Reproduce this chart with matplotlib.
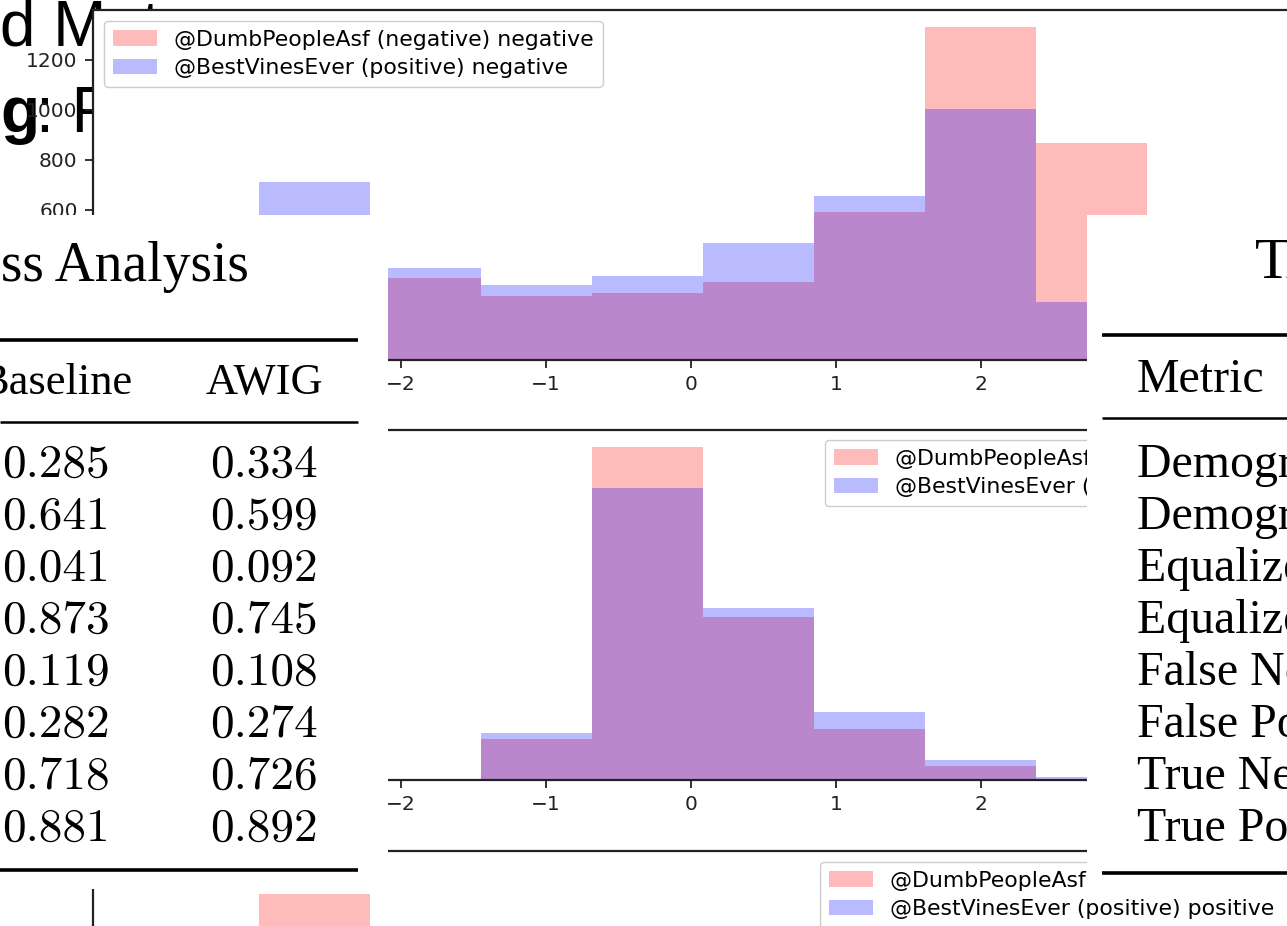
import matplotlib
matplotlib.use("Agg")
import matplotlib.pyplot as plt

W, H = 1287, 926
DPI = 100

# ---------------- data ----------------
bin_edges = [-2.98, -2.214, -1.448, -0.682, 0.084, 0.85, 1.616, 2.382, 3.148]

neg_dumb = [480, 328, 256, 268, 312, 591, 1332, 867]
neg_best = [711, 368, 300, 336, 467, 655, 1003, 232]

mid_dumb = [0, 0, 164, 1332, 651, 204, 56, 4]
mid_best = [0, 0, 188, 1167, 687, 272, 80, 12]

pos_dumb = [921, 520, 380, 330, 420, 610, 1000, 760]
pos_best = [700, 560, 430, 380, 500, 660, 790, 300]

labels_neg = ["@DumbPeopleAsf (negative) negative", "@BestVinesEver (positive) negative"]
labels_pos = ["@DumbPeopleAsf (negative) positive", "@BestVinesEver (positive) positive"]

x_ticks = [-4, -3, -2, -1, 0, 1, 2, 3, 4]
y_ticks = [0, 200, 400, 600, 800, 1000, 1200]

metrics = ["Demographic Parity Difference", "Demographic Parity Ratio",
           "Equalized Odds Difference", "Equalized Odds Ratio",
           "False Negative Rate", "False Positive Rate",
           "True Negative Rate", "True Positive Rate"]
baseline_vals = ["0.285", "0.641", "0.041", "0.873", "0.119", "0.282", "0.718", "0.881"]
awig_vals = ["0.334", "0.599", "0.092", "0.745", "0.108", "0.274", "0.726", "0.892"]

# ---------------- helpers ----------------
fig = plt.figure(figsize=(W / DPI, H / DPI), dpi=DPI)
fig.patch.set_facecolor("white")


def px_axes(l, t, r, b, z):
    return fig.add_axes([l / W, 1 - b / H, (r - l) / W, (b - t) / H], zorder=z)


X0, XS = 691, 145.0  # pixel of x=0, pixels per unit


def xlim_for(l, r):
    return ((l - X0) / XS, (r - X0) / XS)


RED = "red"
BLUE = "blue"
ALPHA = 0.27
INK = "#222222"


def style_hist(ax, xlim, ylim):
    ax.set_facecolor("white")
    ax.set_xticks(x_ticks)
    ax.set_yticks(y_ticks)
    ax.set_xlim(*xlim)
    ax.set_ylim(*ylim)
    ax.tick_params(labelsize=14.5, length=6, width=1.3, color=INK, labelcolor=INK, pad=5)
    for s in ax.spines.values():
        s.set_linewidth(1.6)
        s.set_color(INK)


def draw_hist(ax, dumb, best, labels):
    centers = [(a + b) / 2 for a, b in zip(bin_edges[:-1], bin_edges[1:])]
    ax.hist(centers, bins=bin_edges, weights=dumb, color=RED, alpha=ALPHA, label=labels[0])
    ax.hist(centers, bins=bin_edges, weights=best, color=BLUE, alpha=ALPHA, label=labels[1])


leg_kw = dict(fontsize=15.8, labelspacing=0.38, handlelength=2.0, handletextpad=0.8,
              borderpad=0.4, framealpha=1.0)

# ---------------- background slide text ----------------
bg = px_axes(0, 0, W, H, 0)
bg.set_xlim(0, W)
bg.set_ylim(H, 0)
bg.axis("off")
bg.text(0, 45, "d Met", fontsize=46, family="Liberation Sans", va="baseline", ha="left")
bg.text(0, 132, "g", fontsize=46, family="Liberation Sans", weight="bold", va="baseline", ha="left")
bg.text(36, 132, ": F", fontsize=46, family="Liberation Sans", va="baseline", ha="left")

# ---------------- top histogram (negative) ----------------
ax1 = px_axes(93, 10, 1400, 360, 1)
draw_hist(ax1, neg_dumb, neg_best, labels_neg)
style_hist(ax1, xlim_for(93, 1400), (0, 1398.6))
ax1.legend(loc="upper left", **leg_kw)

# ---------------- bottom histogram (positive) ----------------
ax3 = px_axes(93, 851, 1400, 1201, 2)
draw_hist(ax3, pos_dumb, pos_best, labels_pos)
style_hist(ax3, xlim_for(93, 1400), (0, 1050))
ax3.legend(loc="upper left", bbox_to_anchor=(820 / W, 1 - 862 / H),
           bbox_transform=fig.transFigure, borderaxespad=0, **leg_kw)

# ---------------- middle histogram ----------------
ax2 = px_axes(93, 430, 1400, 780, 3)
draw_hist(ax2, mid_dumb, mid_best, labels_pos)
style_hist(ax2, xlim_for(93, 1400), (0, 1398.6))
ax2.legend(loc="upper left", bbox_to_anchor=(825 / W, 1 - 440 / H),
           bbox_transform=fig.transFigure, borderaxespad=0, **leg_kw)


# ---------------- tables ----------------
def table_axes(l, t, r, b):
    ax = px_axes(l, t, r, b, 5)
    ax.set_xlim(l, r)
    ax.set_ylim(b, t)
    ax.set_facecolor("white")
    ax.set_xticks([])
    ax.set_yticks([])
    for s in ax.spines.values():
        s.set_visible(False)
    return ax


row_base = [477, 529, 581, 633, 685, 737, 789, 841]
SERIF = "Liberation Serif"

# left table
tl = table_axes(0, 215, 388, 889)
tl.text(249, 281, "TABLE I: Fairness Analysis", fontsize=40, family=SERIF, ha="right", va="baseline")
tl.plot([0, 358], [340, 340], color="black", lw=2.6, solid_capstyle="butt")
tl.plot([0, 358], [422, 422], color="black", lw=1.8, solid_capstyle="butt")
tl.plot([0, 358], [870, 870], color="black", lw=2.6, solid_capstyle="butt")
tl.text(133, 394, "Baseline", fontsize=32, family=SERIF, ha="right", va="baseline")
tl.text(264, 394, "AWIG", fontsize=32, family=SERIF, ha="center", va="baseline")
for yb, bv, av in zip(row_base, baseline_vals, awig_vals):
    tl.text(110, yb, bv, fontsize=34, family="cmr10", ha="right", va="baseline")
    tl.text(318, yb, av, fontsize=34, family="cmr10", ha="right", va="baseline")

# right table
tr = table_axes(1087, 215, 1287, 895)
tr.text(1255, 277, "TABLE II: Fairness Metrics", fontsize=42, family=SERIF, ha="left", va="baseline")
tr.plot([1102, 1287], [335, 335], color="black", lw=2.6, solid_capstyle="butt")
tr.plot([1102, 1287], [418, 418], color="black", lw=1.8, solid_capstyle="butt")
tr.plot([1102, 1287], [873, 873], color="black", lw=2.6, solid_capstyle="butt")
tr.text(1137, 392, "Metric", fontsize=34.5, family=SERIF, ha="left", va="baseline")
for yb, m in zip(row_base, metrics):
    tr.text(1137, yb, m, fontsize=34.5, family=SERIF, ha="left", va="baseline")

fig.savefig("out.png", dpi=DPI)
